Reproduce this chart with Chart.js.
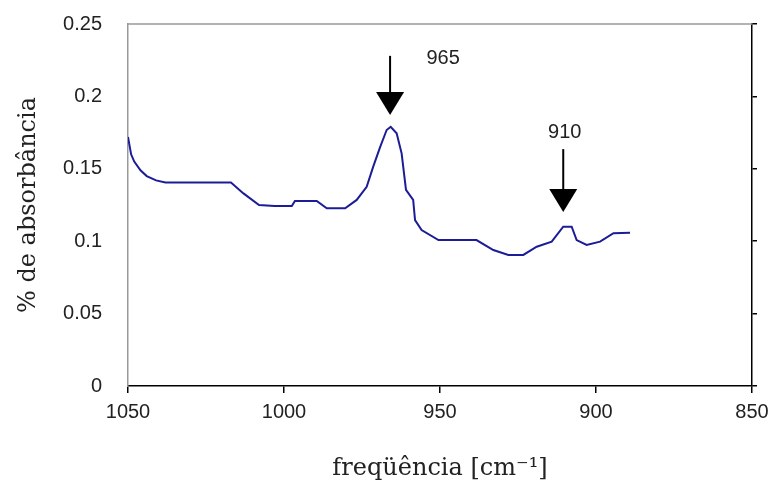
<!DOCTYPE html>
<html>
<head>
<meta charset="utf-8">
<script src="https://cdn.jsdelivr.net/npm/chart.js@4"></script>
<style>
  body { margin: 0; background: #fff; }
  #wrap { width: 774px; height: 489px; }
</style>
</head>
<body>
<div id="wrap"><canvas id="line-chart"></canvas></div>
<script>
// frequency (cm-1) and absorbance
var freq = [1050, 1049, 1048, 1046, 1044, 1041, 1038, 1030, 1017, 1013, 1008, 1003, 997.5, 996.5, 989.5, 986.3, 980.4, 976.7, 973.5, 971.4, 969.2, 967.1, 965.8, 963.9, 962.3, 960.9, 958.6, 958, 955.9, 950.5, 938.3, 932.9, 928.1, 923.3, 919, 914.2, 910.5, 907.8, 906.2, 903, 898.7, 894.4, 889.1];
var absorb = [0.172, 0.160, 0.155, 0.149, 0.145, 0.142, 0.1405, 0.1405, 0.1405, 0.133, 0.125, 0.1243, 0.1243, 0.1278, 0.1278, 0.1227, 0.1227, 0.1285, 0.1376, 0.1515, 0.165, 0.1768, 0.179, 0.1745, 0.1607, 0.1354, 0.1285, 0.1146, 0.1077, 0.1008, 0.1008, 0.0939, 0.0905, 0.0905, 0.0962, 0.0997, 0.110, 0.110, 0.1008, 0.0974, 0.0997, 0.1055, 0.1059];

// peak markers
var peakLabels = ['965', '910'];
var arrowX = [966, 910.5];
var arrowTop = [0.228, 0.1636];
var arrowTip = [0.1872, 0.1202];
var labelX = [949, 910];
var labelY = [0.2265, 0.1754];

var points = freq.map(function (f, i) { return { x: f, y: absorb[i] }; });

var tickFont = { family: 'Liberation Sans', size: 20 };
var titleFont = { family: 'DejaVu Serif', size: 24 };

var peaks = {
    id: 'peaks',
    afterDraw: function (chart) {
        var c = chart.ctx, xs = chart.scales.x, ys = chart.scales.y, a = chart.chartArea;
        c.save();
        // grey top border
        c.strokeStyle = '#999';
        c.lineWidth = 1.5;
        c.beginPath();
        c.moveTo(a.left, a.top);
        c.lineTo(a.right, a.top);
        c.stroke();

        c.strokeStyle = '#000';
        c.lineWidth = 2;
        for (var i = 0; i < arrowX.length; i++) {
            var px = xs.getPixelForValue(arrowX[i]);
            var top = ys.getPixelForValue(arrowTop[i]);
            var tip = ys.getPixelForValue(arrowTip[i]);
            c.beginPath();
            c.moveTo(px, top);
            c.lineTo(px, tip - 20);
            c.stroke();
            c.fillStyle = '#000';
            c.beginPath();
            c.moveTo(px - 14, tip - 23);
            c.lineTo(px + 14, tip - 23);
            c.lineTo(px, tip);
            c.closePath();
            c.fill();
            c.font = '20px "Liberation Sans"';
            c.textAlign = 'center';
            c.textBaseline = 'middle';
            c.fillStyle = '#222';
            c.fillText(peakLabels[i], xs.getPixelForValue(labelX[i]), ys.getPixelForValue(labelY[i]));
        }
        c.restore();
    }
};

function fixY(width) {
    return function (s) { s.width = width; s.paddingTop = 0; s.paddingBottom = 0; };
}

var ctx = document.getElementById('line-chart');
var chart = new Chart(ctx, {
    type: 'line',
    data: {
        datasets: [{
            data: points,
            borderColor: '#1c1c96',
            borderWidth: 2,
            pointRadius: 0,
            tension: 0,
            fill: false
        }]
    },
    options: {
        responsive: true,
        maintainAspectRatio: false,
        animation: false,
        layout: { padding: { top: 24, right: 0, left: 0, bottom: 0 } },
        plugins: { legend: { display: false }, tooltip: { enabled: false } },
        scales: {
            x: {
                type: 'linear',
                reverse: true,
                min: 850,
                max: 1050,
                afterFit: function (s) { s.height = 103; s.paddingLeft = 0; s.paddingRight = 0; },
                ticks: { stepSize: 50, font: tickFont, color: '#222', padding: 7,
                    callback: function (v) { return String(v); } },
                grid: { drawOnChartArea: false, tickLength: 7, color: '#000', lineWidth: 1.5 },
                border: { color: '#000', width: 1.5 },
                title: { display: true, text: 'freqüência [cm⁻¹]', font: titleFont, color: '#222', padding: { top: 0, bottom: 6 } }
            },
            y: {
                min: 0,
                max: 0.25,
                afterFit: fixY(128),
                ticks: { stepSize: 0.05, font: tickFont, color: '#222', padding: 18,
                    callback: function (v) { return String(+v.toFixed(2)); } },
                grid: { display: false },
                border: { color: '#999', width: 1.5 },
                title: { display: true, text: '% de absorbância', font: titleFont, color: '#222', padding: { top: 14, bottom: 0 } }
            },
            y2: {
                position: 'right',
                min: 0,
                max: 0.25,
                afterFit: fixY(22),
                ticks: { stepSize: 0.05, display: false },
                grid: { drawOnChartArea: false, tickLength: 5, color: '#000', lineWidth: 1.5 },
                border: { color: '#000', width: 1.5 }
            }
        }
    },
    plugins: [peaks]
});
</script>
</body>
</html>
